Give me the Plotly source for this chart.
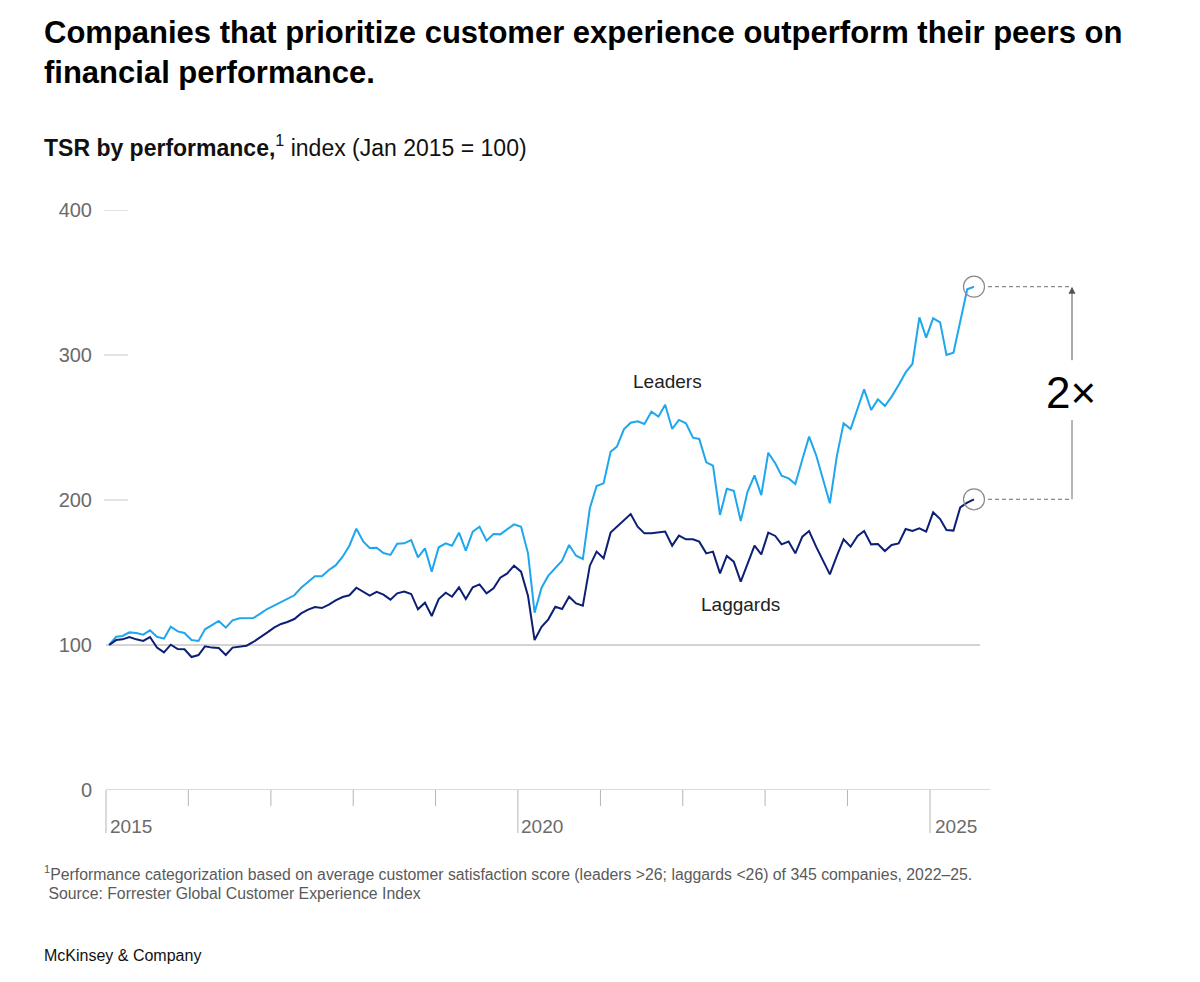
import pandas as pd
import plotly.graph_objects as go

# ---------------- data (monthly TSR index, Jan 2015 = 100) ----------------
leaders = [100, 105.7, 106.2, 108.7, 108.3, 107.1, 110.1, 105.7, 104.4, 112.6, 109.4, 108.3,
           103.4, 102.8, 110.8, 114.0, 116.6, 112.0, 117.0, 118.4, 118.4, 118.6, 121.6, 124.8,
           127.1, 129.7, 132.0, 134.3, 139.5, 143.7, 147.4, 147.4, 151.7, 154.9, 160.9, 168.5,
           180.2, 171.3, 166.9, 167.1, 163.4, 162.1, 169.9, 170.1, 172.4, 160.5, 166.7, 150.6,
           167.4, 170.1, 168.5, 177.5, 165.1, 178.2, 181.6, 172.0, 176.6, 176.3, 179.8, 183.2,
           181.6, 163.2, 122.3, 139.5, 147.8, 152.9, 158.2, 169.0, 161.6, 159.3, 194.3, 209.7,
           211.5, 233.3, 236.8, 248.7, 253.3, 254.3, 252.4, 260.9, 257.5, 265.7, 249.0, 255.2,
           252.9, 243.0, 242.1, 226.0, 223.7, 189.7, 207.8, 206.4, 185.5, 205.7, 217.0, 203.4,
           232.6, 225.3, 216.8, 214.9, 211.0, 228.0, 243.7, 231.0, 214.5, 197.7, 230.3, 252.9,
           249.0, 263.2, 276.3, 262.1, 269.4, 264.8, 271.3, 279.3, 288.0, 293.8, 326.0, 312.0,
           325.3, 322.5, 300.0, 301.6, 323.7, 345.3, 347.1]
laggards = [100, 103.4, 103.9, 105.5, 103.9, 102.8, 105.5, 98.2, 94.9, 100.2, 97.2, 97.0,
            91.7, 93.1, 99.1, 98.2, 97.9, 93.1, 98.2, 98.9, 99.5, 102.1, 105.1, 108.5,
            112.0, 114.5, 115.9, 117.9, 121.8, 124.4, 126.2, 125.5, 127.8, 130.8, 133.1, 134.3,
            139.5, 136.3, 134.0, 136.6, 134.7, 131.3, 135.6, 136.8, 135.2, 124.6, 129.2, 120.0,
            131.7, 136.1, 133.3, 139.8, 131.7, 139.8, 141.8, 135.6, 139.1, 146.4, 149.4, 154.7,
            150.6, 133.8, 103.4, 112.6, 117.7, 126.4, 124.8, 133.3, 128.7, 127.1, 154.7, 164.4,
            159.8, 177.5, 181.6, 186.2, 190.3, 181.6, 177.0, 177.0, 177.5, 178.2, 168.5, 175.4,
            172.9, 172.9, 171.3, 163.2, 164.4, 149.4, 161.4, 157.5, 143.7, 155.9, 168.5, 162.5,
            177.5, 175.2, 169.4, 171.3, 163.2, 174.7, 178.6, 167.8, 157.5, 148.7, 161.4, 172.9,
            167.8, 175.2, 178.6, 169.4, 169.7, 164.8, 169.0, 170.1, 180.0, 178.6, 180.5, 178.2,
            191.5, 186.9, 179.3, 178.9, 194.9, 198.2, 200.5]
assert len(leaders) == len(laggards) == 127
months = pd.date_range("2015-01-01", periods=len(leaders), freq="MS") + pd.Timedelta(days=14)
year_ticks = [2015, 2016, 2017, 2018, 2019, 2020, 2021, 2022, 2023, 2024, 2025]
major_years = [2015, 2020, 2025]
y_ticks = [0, 100, 200, 300, 400]

# ---------------- layout geometry ----------------
W, H = 1200, 982
PL, PR, PT, PB = 99, 990, 210, 790          # plot area in pixels
D0, D1 = pd.Timestamp("2015-01-01"), pd.Timestamp("2025-01-01")
ppd = (930 - 106) / (D1 - D0).days          # pixels per day
xr0 = D0 - pd.Timedelta(days=(106 - PL) / ppd)
xr1 = D0 + pd.Timedelta(days=(PR - 106) / ppd)


def fx(px):
    return (px - PL) / (PR - PL)


def fy(py):
    return (PB - py) / (PB - PT)


def yval(py):
    return (PB - py) / (PB - PT) * 400


FONT = "Liberation Sans, Arial, sans-serif"
GRAY_TXT = "#6b6b6b"
AX = "#b5b5b5"
C_LEAD = "#1ea6ef"
C_LAG = "#0c1f74"

fig = go.Figure()
fig.add_trace(go.Scatter(x=months, y=leaders, mode="lines", name="Leaders",
                         line=dict(color=C_LEAD, width=2)))
fig.add_trace(go.Scatter(x=months, y=laggards, mode="lines", name="Laggards",
                         line=dict(color=C_LAG, width=2)))
fig.add_trace(go.Scatter(x=[months[-1], months[-1]], y=[leaders[-1], laggards[-1]],
                         mode="markers", cliponaxis=False,
                         marker=dict(symbol="circle-open", size=21, color="#8a8a8a",
                                     line=dict(width=1.2, color="#8a8a8a"))))

shapes = []
# baseline at 100
shapes.append(dict(type="line", xref="x", yref="y", x0=D0, x1=xr1 - pd.Timedelta(days=10 / ppd),
                   y0=100, y1=100, line=dict(color="#a8a8a8", width=1), layer="below"))
# short y tick marks
for v in [200, 300, 400]:
    shapes.append(dict(type="line", xref="paper", yref="y", x0=fx(104), x1=fx(128), y0=v, y1=v,
                       line=dict(color="#d0d0d0", width=1.2), layer="below"))
# x axis line
shapes.append(dict(type="line", xref="x", yref="y", x0=D0, x1=xr1, y0=0, y1=0,
                   line=dict(color=AX, width=1)))
# x ticks
for yr in year_ticks:
    d = pd.Timestamp(f"{yr}-01-01")
    ln = 43 if yr in major_years else 16
    shapes.append(dict(type="line", xref="x", yref="paper", x0=d, x1=d, y0=0,
                       y1=-ln / (PB - PT), line=dict(color=AX, width=1)))
# dashed connectors
for v in [leaders[-1], laggards[-1]]:
    shapes.append(dict(type="line", xref="paper", yref="y", x0=fx(988), x1=fx(1072), y0=v, y1=v,
                       line=dict(color="#6e6e6e", width=1, dash="4px,3px")))
# lower part of the vertical bracket
shapes.append(dict(type="line", xref="paper", yref="y", x0=fx(1072), x1=fx(1072),
                   y0=laggards[-1], y1=yval(420), line=dict(color="#6e6e6e", width=1)))

ann = []


def text(px, py, s, size, color="#000", xanchor="left", yanchor="middle"):
    ann.append(dict(xref="paper", yref="paper", x=fx(px), y=fy(py), text=s, showarrow=False,
                    xanchor=xanchor, yanchor=yanchor,
                    font=dict(family=FONT, size=size, color=color)))


text(42, 33, "<b>Companies that prioritize customer experience outperform their peers on</b>", 31)
text(42, 72, "<b>financial performance.</b>", 31)
text(42, 146, "<b>TSR by performance,</b><sup>1</sup> index (Jan 2015 = 100)", 23, "#111")
text(667, 381, "Leaders", 19, "#222", xanchor="center")
text(740, 604, "Laggards", 19, "#222", xanchor="center")
text(1071, 392, "2×", 44, "#000", xanchor="center")
for yr, px in zip(major_years, [108, 519, 933]):
    text(px, 826, str(yr), 19, GRAY_TXT)
text(42, 873, "<sup>1</sup>Performance categorization based on average customer satisfaction score "
     "(leaders &gt;26; laggards &lt;26) of 345 companies, 2022–25.", 15.8, "#5a5a5a")
text(42, 893, " Source: Forrester Global Customer Experience Index", 15.8, "#5a5a5a")
text(42, 955, "McKinsey & Company", 16, "#111")

# arrow (upper part of bracket)
ann.append(dict(xref="paper", yref="y", x=fx(1072), y=leaders[-1], ax=0, ay=75,
                text="", showarrow=True, arrowhead=2, arrowsize=1.4, arrowwidth=1,
                arrowcolor="#555"))

fig.update_layout(
    width=W, height=H,
    margin=dict(l=PL, r=W - PR, t=PT, b=H - PB, pad=0),
    paper_bgcolor="white", plot_bgcolor="white",
    showlegend=False,
    shapes=shapes, annotations=ann,
    font=dict(family=FONT),
    xaxis=dict(type="date", range=[xr0, xr1], showgrid=False, zeroline=False, showline=False,
               ticks="", showticklabels=False),
    yaxis=dict(range=[0, 400], tickvals=y_ticks, ticktext=[str(v) for v in y_ticks],
               showgrid=False, zeroline=False, showline=False, ticks="",
               ticklabelstandoff=6,
               tickfont=dict(family=FONT, size=20, color=GRAY_TXT)),
)

fig.write_html("out.html")
